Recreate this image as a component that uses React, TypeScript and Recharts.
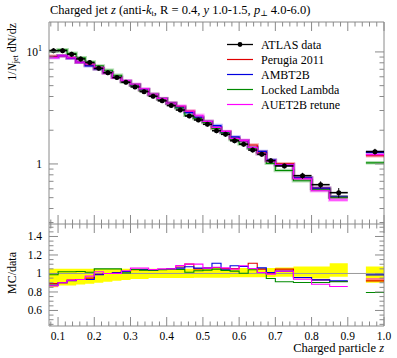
import React from 'react';
import { ComposedChart, Line, Area, Scatter, ErrorBar, XAxis, YAxis, ReferenceLine } from 'recharts';

// bin edges (z), last bin after a gap
const binLo = [0.075, 0.1, 0.125, 0.15, 0.175, 0.2, 0.225, 0.25, 0.275, 0.3, 0.325, 0.35, 0.375, 0.4, 0.425, 0.45, 0.475, 0.5, 0.525, 0.55, 0.575, 0.6, 0.625, 0.65, 0.675, 0.7, 0.75, 0.8, 0.85, 0.95];
const binHi = [0.1, 0.125, 0.15, 0.175, 0.2, 0.225, 0.25, 0.275, 0.3, 0.325, 0.35, 0.375, 0.4, 0.425, 0.45, 0.475, 0.5, 0.525, 0.55, 0.575, 0.6, 0.625, 0.65, 0.675, 0.7, 0.75, 0.8, 0.85, 0.9, 1.0];

// ATLAS data, 1/Njet dN/dz and relative error
const atlasData = [10.27, 10.27, 9.54, 8.66, 8.03, 7.15, 6.53, 5.9, 5.36, 4.87, 4.42, 4.02, 3.66, 3.32, 3.03, 2.68, 2.47, 2.26, 1.98, 1.84, 1.61, 1.5, 1.33, 1.22, 1.07, 0.96, 0.786, 0.653, 0.554, 1.288];
const atlasErr = [0.05, 0.05, 0.05, 0.05, 0.05, 0.05, 0.05, 0.045, 0.045, 0.045, 0.045, 0.045, 0.045, 0.045, 0.045, 0.045, 0.045, 0.045, 0.05, 0.05, 0.05, 0.05, 0.05, 0.05, 0.05, 0.05, 0.06, 0.07, 0.1, 0.06];

// MC / data
const perugiaRatio = [0.892, 0.899, 0.928, 0.935, 0.95, 0.99, 1.0, 1.007, 1.022, 1.04, 1.04, 1.036, 1.043, 1.05, 1.07, 1.101, 1.05, 1.058, 1.064, 1.054, 1.054, 1.076, 1.111, 1.047, 1.003, 1.047, 0.953, 0.931, 0.913, 0.92];
const ambtRatio = [0.874, 0.899, 0.921, 0.935, 0.935, 0.986, 1.0, 1.007, 1.022, 1.043, 1.043, 1.036, 1.043, 1.05, 1.058, 1.072, 1.058, 1.058, 1.111, 1.04, 1.083, 1.076, 1.054, 1.061, 1.011, 1.025, 0.957, 0.931, 0.92, 0.985];
const lockedRatio = [0.986, 1.018, 1.018, 1.022, 1.014, 1.05, 1.05, 1.05, 1.007, 1.043, 1.036, 1.036, 1.04, 1.043, 1.043, 1.014, 1.029, 1.036, 1.047, 1.032, 1.025, 1.003, 1.04, 1.011, 0.946, 0.91, 0.902, 0.902, 0.91, 0.794];
const auetRatio = [0.866, 0.899, 0.928, 0.935, 0.971, 1.018, 1.0, 1.0, 1.029, 1.058, 1.058, 1.043, 1.05, 1.05, 1.086, 1.101, 1.101, 1.058, 1.068, 1.061, 1.047, 1.083, 1.054, 1.011, 0.993, 1.025, 0.938, 0.884, 0.859, 0.94];

// data uncertainty band in the ratio
const bandLo = [0.85, 0.87, 0.87, 0.88, 0.89, 0.9, 0.91, 0.92, 0.93, 0.94, 0.94, 0.95, 0.95, 0.95, 0.95, 0.95, 0.955, 0.955, 0.955, 0.955, 0.96, 0.96, 0.96, 0.96, 0.96, 0.965, 0.965, 0.945, 0.965, 0.9];
const bandHi = [1.05, 1.05, 1.05, 1.05, 1.05, 1.05, 1.05, 1.05, 1.05, 1.05, 1.05, 1.05, 1.05, 1.05, 1.05, 1.05, 1.05, 1.05, 1.06, 1.06, 1.06, 1.06, 1.06, 1.06, 1.06, 1.065, 1.075, 1.075, 1.11, 1.075];

const xMajorTicks = [0.1, 0.2, 0.3, 0.4, 0.5, 0.6, 0.7, 0.8, 0.9, 1.0];
const xTickLabels = ['0.1', '0.2', '0.3', '0.4', '0.5', '0.6', '0.7', '0.8', '0.9', '1.0'];
const yTopMajor = [1, 10];
const yTopMinor = [0.3, 0.4, 0.5, 0.6, 0.7, 0.8, 0.9, 2, 3, 4, 5, 6, 7, 8, 9];
const yRatioMajor = [0.6, 0.8, 1, 1.2, 1.4];
const yRatioLabels = ['0.6', '0.8', '1', '1.2', '1.4'];

const FONT = '"Liberation Serif", "DejaVu Serif", serif';
const FRAME = '#8a8a8a';
const X_DOMAIN: [number, number] = [0.075, 1.0];
const TOP_DOMAIN: [number, number] = [0.291, 18.5];
const RATIO_DOMAIN: [number, number] = [0.432, 1.535];

// plot box sizes (px), used to mirror ticks onto the top / right edges
const PLOT_W = 335;
const TOP_H = 202;
const RATIO_H = 102;

const series = [
  { key: 'perugia', name: 'Perugia 2011', color: '#e00000', ratio: perugiaRatio },
  { key: 'ambt', name: 'AMBT2B', color: '#0000e0', ratio: ambtRatio },
  { key: 'locked', name: 'Locked Lambda', color: '#008a00', ratio: lockedRatio },
  { key: 'auet', name: 'AUET2B retune', color: '#ff00ff', ratio: auetRatio },
];

const xMinor: number[] = [];
for (let i = 4; i <= 50; i++) xMinor.push(Math.round(i * 2) / 100);
const yRatioTicks: number[] = [];
for (let i = 9; i <= 30; i++) yRatioTicks.push(Math.round(i * 5) / 100);

// histogram rows: two points per bin, a null row across the gap
const topRows: any[] = [];
const ratioRows: any[] = [];
binLo.forEach((lo, i) => {
  if (i > 0 && Math.abs(lo - binHi[i - 1]) > 1e-9) {
    const gap: any = { x: (lo + binHi[i - 1]) / 2, band: null };
    series.forEach((s) => (gap[s.key] = null));
    topRows.push(gap);
    ratioRows.push(gap);
  }
  [lo, binHi[i]].forEach((x) => {
    const t: any = { x };
    const r: any = { x, band: [bandLo[i], bandHi[i]] };
    series.forEach((s) => {
      t[s.key] = s.ratio[i] * atlasData[i];
      r[s.key] = s.ratio[i];
    });
    topRows.push(t);
    ratioRows.push(r);
  });
});

const atlasPoints = atlasData.map((v, i) => ({
  x: (binLo[i] + binHi[i]) / 2,
  y: v,
  ex: (binHi[i] - binLo[i]) / 2,
  ey: v * atlasErr[i],
}));

const near = (a: number, b: number) => Math.abs(a - b) < 1e-6;

// x ticks: inward on the bottom edge and mirrored on the top edge
const makeXTick = (plotH: number, showLabel: boolean) => (props: any) => {
  const { x, y, payload } = props;
  const idx = xMajorTicks.findIndex((m) => near(m, payload.value));
  const len = idx >= 0 ? 9 : 4.5;
  return (
    <g>
      <line x1={x} x2={x} y1={y} y2={y - len} stroke={FRAME} />
      <line x1={x} x2={x} y1={y - plotH} y2={y - plotH + len} stroke={FRAME} />
      {showLabel && idx >= 0 && (
        <text x={x} y={y + 14} textAnchor="middle" fontSize={11.5} fontFamily={FONT} fill="#000">
          {xTickLabels[idx]}
        </text>
      )}
    </g>
  );
};

// y ticks: inward on the left edge and mirrored on the right edge
const makeYTick = (majors: number[], label: (v: number) => React.ReactNode) => (props: any) => {
  const { x, y, payload } = props;
  const v = payload.value;
  const major = majors.some((m) => near(m, v));
  const len = major ? 9 : 4.5;
  return (
    <g>
      <line x1={x} x2={x + len} y1={y} y2={y} stroke={FRAME} />
      <line x1={x + PLOT_W} x2={x + PLOT_W - len} y1={y} y2={y} stroke={FRAME} />
      {major && (
        <text x={x - 7} y={y + 4} textAnchor="end" fontSize={11.5} fontFamily={FONT} fill="#000">
          {label(v)}
        </text>
      )}
    </g>
  );
};

const logLabel = (v: number) =>
  near(v, 10) ? (
    <>
      10<tspan dy={-5} fontSize={8}>1</tspan>
    </>
  ) : (
    '1'
  );
const ratioLabel = (v: number) => yRatioLabels[yRatioMajor.findIndex((m) => near(m, v))];

const Legend = () => (
  <g fontFamily={FONT} fontSize={12}>
    <line x1={227} x2={253} y1={44.5} y2={44.5} stroke="#000" strokeWidth={1.3} />
    <circle cx={240} cy={44.5} r={2.4} fill="#000" />
    <text x={261} y={48.5}>ATLAS data</text>
    {series.map((s, i) => (
      <g key={s.key}>
        <line x1={227} x2={253} y1={59.5 + i * 15} y2={59.5 + i * 15} stroke={s.color} strokeWidth={1.2} />
        <text x={261} y={63.5 + i * 15}>{s.name}</text>
      </g>
    ))}
  </g>
);

export default function App() {
  return (
    <div style={{ position: 'absolute', left: 0, top: 0, width: 397, height: 358, background: '#fff' }}>
      <div style={{ position: 'absolute', left: 0, top: 0 }}>
        <ComposedChart width={397} height={225} data={topRows} margin={{ top: 22, right: 13, bottom: 0, left: 48 }}>
          <XAxis
            dataKey="x"
            type="number"
            domain={X_DOMAIN}
            allowDataOverflow
            ticks={xMinor}
            interval={0}
            height={1}
            tickSize={0}
            tickMargin={0}
            axisLine={{ stroke: FRAME }}
            tickLine={false}
            tick={makeXTick(TOP_H, false)}
          />
          <YAxis
            scale="log"
            type="number"
            domain={TOP_DOMAIN}
            allowDataOverflow
            ticks={[...yTopMinor, ...yTopMajor]}
            interval={0}
            width={1}
            tickSize={0}
            tickMargin={0}
            axisLine={{ stroke: FRAME }}
            tickLine={false}
            tick={makeYTick(yTopMajor, logLabel)}
          />
          <ReferenceLine y={TOP_DOMAIN[1]} stroke={FRAME} />
          <ReferenceLine x={X_DOMAIN[1]} stroke={FRAME} />
          {series.map((s) => (
            <Line
              key={s.key + 'h'}
              dataKey={s.key}
              type="linear"
              stroke={s.color}
              strokeOpacity={0.3}
              strokeWidth={3.5}
              dot={false}
              activeDot={false}
              isAnimationActive={false}
            />
          ))}
          {series.map((s) => (
            <Line
              key={s.key}
              dataKey={s.key}
              type="linear"
              stroke={s.color}
              strokeWidth={1.1}
              dot={false}
              activeDot={false}
              isAnimationActive={false}
            />
          ))}
          <Scatter
            data={atlasPoints}
            dataKey="y"
            isAnimationActive={false}
            shape={(p: any) => <circle cx={p.cx} cy={p.cy} r={2.5} fill="#000" />}
          >
            <ErrorBar dataKey="ey" direction="y" width={0} stroke="#000" strokeWidth={1} />
            <ErrorBar dataKey="ex" direction="x" width={0} stroke="#000" strokeWidth={1.6} />
          </Scatter>
        </ComposedChart>
      </div>
      <div style={{ position: 'absolute', left: 0, top: 224 }}>
        <ComposedChart width={397} height={134} data={ratioRows} margin={{ top: 0, right: 13, bottom: 31, left: 48 }}>
          <XAxis
            dataKey="x"
            type="number"
            domain={X_DOMAIN}
            allowDataOverflow
            ticks={xMinor}
            interval={0}
            height={1}
            tickSize={0}
            tickMargin={0}
            axisLine={{ stroke: FRAME }}
            tickLine={false}
            tick={makeXTick(RATIO_H, true)}
          />
          <YAxis
            type="number"
            domain={RATIO_DOMAIN}
            allowDataOverflow
            ticks={yRatioTicks}
            interval={0}
            width={1}
            tickSize={0}
            tickMargin={0}
            axisLine={{ stroke: FRAME }}
            tickLine={false}
            tick={makeYTick(yRatioMajor, ratioLabel)}
          />
          <Area dataKey="band" type="linear" fill="#ffff00" fillOpacity={1} stroke="none" isAnimationActive={false} activeDot={false} />
          <ReferenceLine y={1} stroke="#9a9a9a" strokeWidth={1} />
          <ReferenceLine x={X_DOMAIN[1]} stroke={FRAME} />
          {series.map((s) => (
            <Line
              key={s.key}
              dataKey={s.key}
              type="linear"
              stroke={s.color}
              strokeWidth={1.1}
              dot={false}
              activeDot={false}
              isAnimationActive={false}
            />
          ))}
        </ComposedChart>
      </div>
      <svg width={397} height={358} style={{ position: 'absolute', left: 0, top: 0, pointerEvents: 'none' }}>
        <text x={50} y={14} fontFamily={FONT} fontSize={12.5} fill="#000">
          Charged jet <tspan fontStyle="italic">z</tspan> (anti-<tspan fontStyle="italic">k</tspan>
          <tspan fontSize={8} dy={2}>t</tspan>
          <tspan dy={-2}>, R = 0.4, </tspan>
          <tspan fontStyle="italic">y</tspan> 1.0-1.5, <tspan fontStyle="italic">p</tspan>
          <tspan fontSize={8} dy={2}>⊥</tspan>
          <tspan dy={-2}> 4.0-6.0)</tspan>
        </text>
        <text transform="translate(16,23) rotate(-90)" textAnchor="end" fontFamily={FONT} fontSize={12} fill="#000">
          1/<tspan fontStyle="italic">N</tspan>
          <tspan fontSize={8} dy={2}>jet</tspan>
          <tspan dy={-2}> dN/dz</tspan>
        </text>
        <text transform="translate(16,273) rotate(-90)" textAnchor="middle" fontFamily={FONT} fontSize={12} fill="#000">
          MC/data
        </text>
        <text x={384} y={352} textAnchor="end" fontFamily={FONT} fontSize={12.5} fill="#000">
          Charged particle <tspan fontStyle="italic">z</tspan>
        </text>
        <Legend />
      </svg>
    </div>
  );
}
